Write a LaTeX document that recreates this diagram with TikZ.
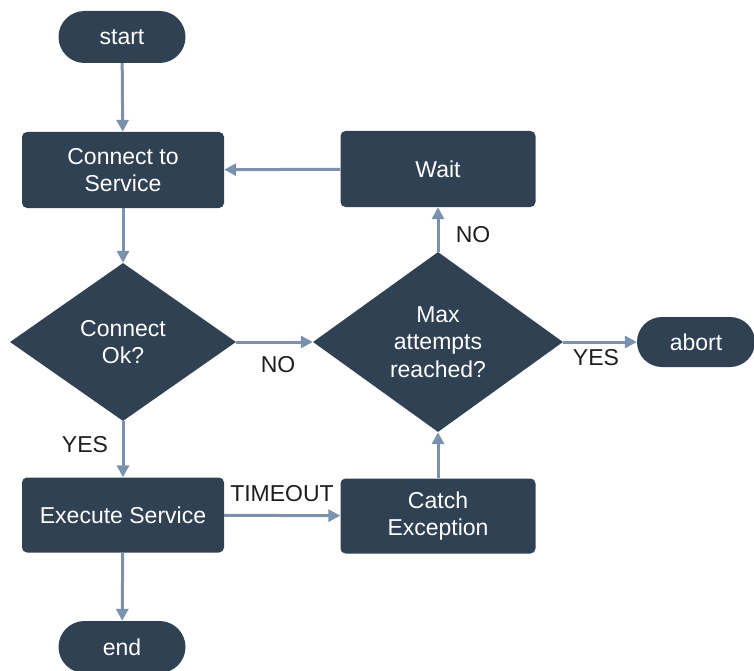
\documentclass[tikz,border=0pt]{standalone}
\usepackage{fontspec}
\setmainfont{Liberation Sans}
\usetikzlibrary{shapes.geometric,arrows.meta}
\definecolor{boxfill}{RGB}{47,65,83}
\definecolor{flowline}{RGB}{122,146,174}
\definecolor{labeltext}{RGB}{30,30,30}
\begin{document}
\begin{tikzpicture}[x=1pt,y=-1pt,
  every node/.style={font=\fontsize{23}{27.5}\selectfont},
  terminal/.style={fill=boxfill,text=white,rectangle,rounded corners=26pt,
    minimum height=52pt,inner sep=0pt},
  process/.style={fill=boxfill,text=white,rectangle,rounded corners=5pt,
    inner sep=0pt,align=center},
  decision/.style={fill=boxfill,text=white,diamond,aspect=1.4,inner sep=0pt,align=center},
  flow/.style={draw=flowline,line width=3pt,
    -{Triangle[length=12pt,width=12pt]}},
  lbl/.style={text=labeltext,inner sep=0pt}]
\useasboundingbox (0,0) rectangle (754,671);

% nodes
\node[terminal,minimum width=127pt] (start) at (122,37) {start};
\node[process,minimum width=202pt,minimum height=76pt] (connect) at (123,170) {Connect to\\Service};
\node[process,minimum width=195pt,minimum height=76pt] (wait) at (438,169) {Wait};
\node[decision,minimum width=226pt,minimum height=158pt] (ok) at (123,342) {Connect\\Ok?};
\node[decision,minimum width=250pt,minimum height=180pt] (max) at (438,342) {Max\\attempts\\reached?};
\node[terminal,minimum width=118pt,minimum height=50pt,rounded corners=25pt] (abort) at (696,342) {abort};
\node[process,minimum width=202pt,minimum height=75pt] (exec) at (123,515) {Execute Service};
\node[process,minimum width=195pt,minimum height=75pt] (catch) at (438,516) {Catch\\Exception};
\node[terminal,minimum width=127pt] (end) at (122,647) {end};

% connectors
\draw[flow] (start) -- (connect);
\draw[flow] (wait) -- (connect);
\draw[flow] (connect) -- (ok);
\draw[flow] (ok.east) -- (max.west);
\draw[flow] (max.north) -- (wait.south);
\draw[flow] (max.east) -- (abort.west);
\draw[flow] (ok.south) -- (exec.north);
\draw[flow] (exec) -- (catch);
\draw[flow] (catch.north) -- (max.south);
\draw[flow] (exec) -- (end);

% connector labels
\node[lbl] (lno1) at (278,365) {NO};
\node[lbl] (lno2) at (473,235) {NO};
\node[lbl] (lyes1) at (596,358) {YES};
\node[lbl] (lyes2) at (85,445) {YES};
\node[lbl] (ltime) at (282,494) {TIMEOUT};
\end{tikzpicture}
\end{document}
